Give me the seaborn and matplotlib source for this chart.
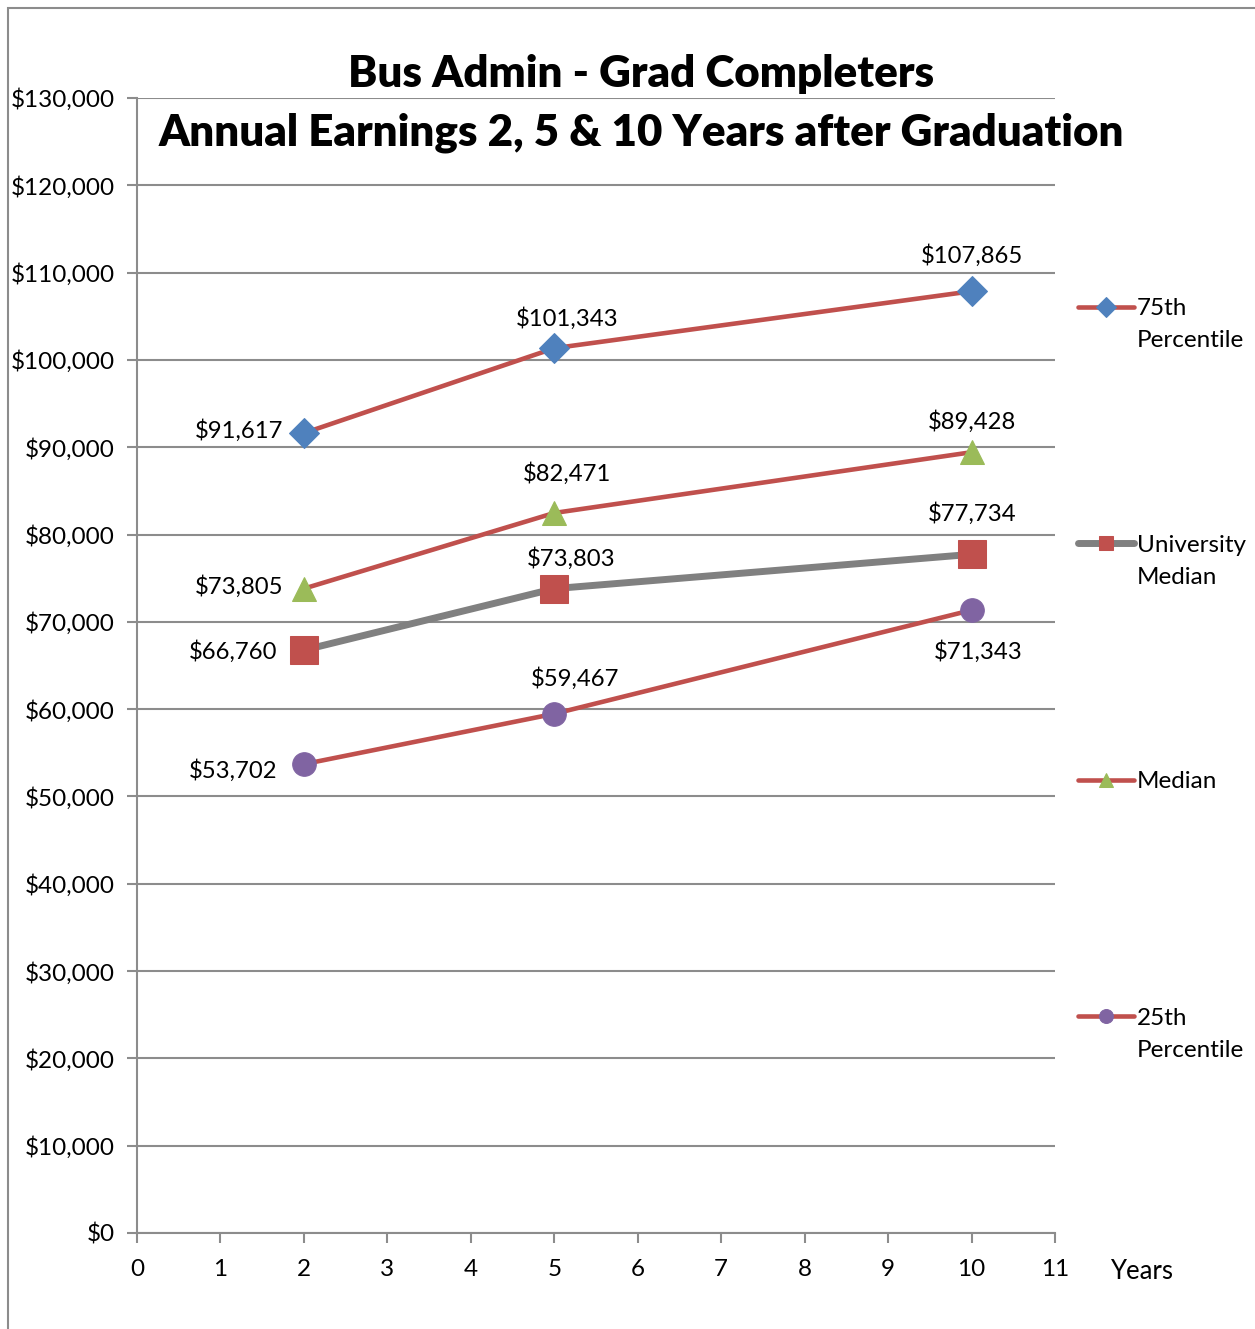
import seaborn as sns
import matplotlib.pyplot as plt
from matplotlib.ticker import StrMethodFormatter, MultipleLocator
from matplotlib.patches import Rectangle

# data
years = [2, 5, 10]
pct75 = [91617, 101343, 107865]
univ_median = [66760, 73803, 77734]
median = [73805, 82471, 89428]
pct25 = [53702, 59467, 71343]
labels = ['75th\nPercentile', 'University\nMedian', 'Median\n', '25th\nPercentile']

sns.set_theme(style='white')
plt.rcParams['font.family'] = ['Lato', 'DejaVu Sans']
plt.rcParams['text.color'] = 'black'
plt.rcParams['axes.labelcolor'] = 'black'

red = '#C0504D'
blue = '#4F81BD'
green = '#9BBB59'
purple = '#8064A2'
gray = '#808080'
axis_gray = '#8C8C8C'

W, H = 1255, 1329
fig = plt.figure(figsize=(W / 100, H / 100), dpi=100)
ax = fig.add_axes([137 / W, 1 - 1233 / H, 918 / W, 1135 / H])

sns.lineplot(x=years, y=pct75, ax=ax, color=red, lw=3.3, marker='D', markersize=15,
             markerfacecolor=blue, markeredgecolor=blue, label=labels[0], zorder=3)
sns.lineplot(x=years, y=univ_median, ax=ax, color=gray, lw=5, marker='s', markersize=20,
             markerfacecolor=red, markeredgecolor=red, label=labels[1], zorder=3)
sns.lineplot(x=years, y=median, ax=ax, color=red, lw=3.3, marker='^', markersize=17,
             markerfacecolor=green, markeredgecolor=green, label=labels[2], zorder=3)
sns.lineplot(x=years, y=pct25, ax=ax, color=red, lw=3.3, marker='o', markersize=17,
             markerfacecolor=purple, markeredgecolor=purple, label=labels[3], zorder=3)

# data labels (dx, dy in pixels, ha)
label_pos = {
    0: [(-21, 3, 'right'), (13, 30, 'center'), (0, 36, 'center')],
    1: [(-27, -1, 'right'), (17, 30, 'center'), (1, 41, 'center')],
    2: [(-21, 2, 'right'), (13, 39, 'center'), (0, 31, 'center')],
    3: [(-26, -6, 'right'), (21, 35, 'center'), (7, -41, 'center')],
}
for i, vals in enumerate([pct75, univ_median, median, pct25]):
    for (x, v), (dx, dy, ha) in zip(zip(years, vals), label_pos[i]):
        ax.annotate(f'${v:,.0f}', (x, v), xytext=(dx, dy), textcoords='offset pixels',
                    ha=ha, va='center', fontsize=17.2, color='black')

ax.set_xlim(0, 11)
ax.set_ylim(0, 130000)
ax.xaxis.set_major_locator(MultipleLocator(1))
ax.yaxis.set_major_locator(MultipleLocator(10000))
ax.yaxis.set_major_formatter(StrMethodFormatter('${x:,.0f}'))
ax.grid(axis='y', color=axis_gray, lw=1.5)
ax.set_axisbelow(True)
for s in ['top', 'right']:
    ax.spines[s].set_visible(False)
for s in ['left', 'bottom']:
    ax.spines[s].set_color(axis_gray)
    ax.spines[s].set_linewidth(1.5)
ax.tick_params(direction='out', length=7, width=1.5, color=axis_gray,
               labelsize=17.5, labelcolor='black', left=True, bottom=True)
ax.tick_params(axis='y', pad=9)
ax.tick_params(axis='x', pad=12)
ax.set_xlabel('Years', fontsize=18.5)
ax.xaxis.set_label_coords((1142 - 137) / 918, (1233 - 1259) / 1135)
ax.set_ylabel('')

fig.text(641 / W, 1 - 54 / H,
         'Bus Admin - Grad Completers\nAnnual Earnings 2, 5 & 10 Years after Graduation',
         ha='center', va='top', fontsize=31.6, fontweight='heavy', color='black',
         linespacing=1.55)

handles, labs = ax.get_legend_handles_labels()
ax.get_legend().remove()
leg = fig.legend(handles, labs, loc='upper left', bbox_to_anchor=(1078 / W, 1 - 298 / H),
                 frameon=False, fontsize=17.5, handlelength=2.3, handletextpad=0.12,
                 labelspacing=7.55, borderpad=0, borderaxespad=0)
for h in leg.legend_handles:
    h.set_markersize(10)
for col in leg._legend_handle_box.get_children():
    for row in col.get_children():
        row.align = 'top'
for t in leg.get_texts():
    t.set_linespacing(1.65)

# outer frame (only left and top visible)
fig.add_artist(Rectangle((8 / W, -0.5), 2, 1.5 - 8 / H, transform=fig.transFigure,
                         fill=False, edgecolor=axis_gray, lw=1.5))

fig.savefig('out.png', dpi=100)
